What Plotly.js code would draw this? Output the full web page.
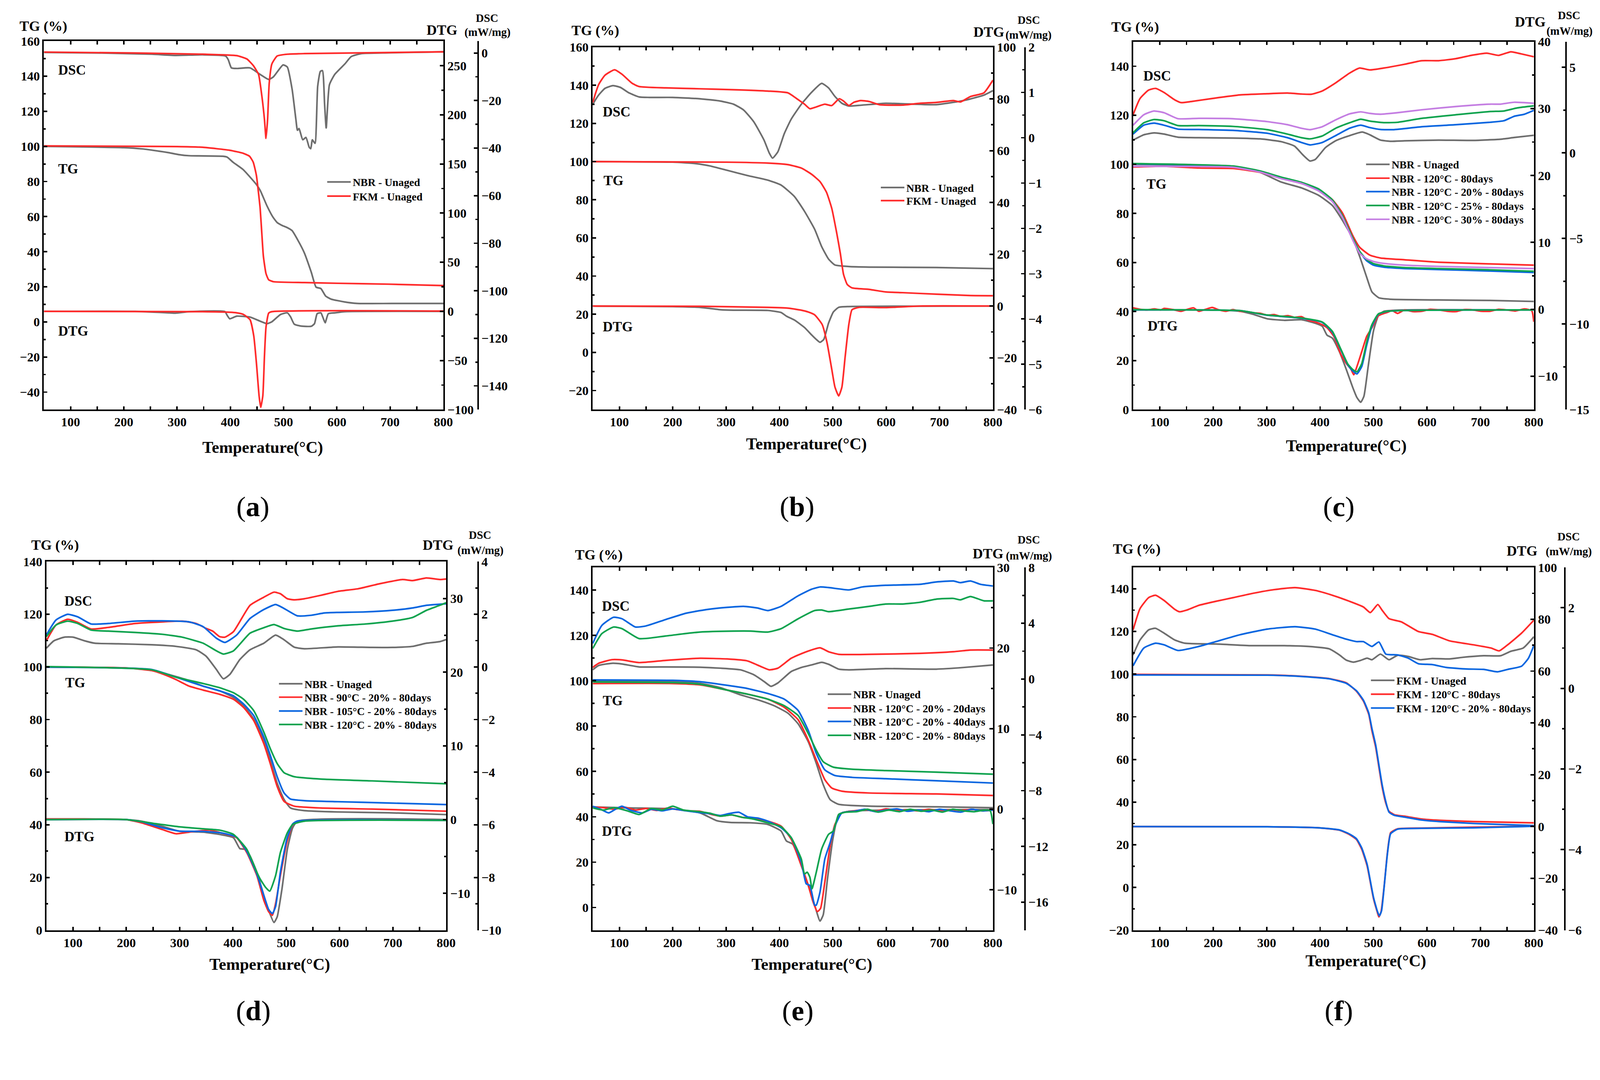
<!DOCTYPE html>
<html><head><meta charset="utf-8">
<script src="https://cdn.plot.ly/plotly-3.0.1.min.js"></script>
<style>html,body{margin:0;padding:0;background:#fff;overflow:hidden}#chart{display:block}</style>
</head><body><div id="chart"></div>
<script>
// ===================== DATA (temperature in °C, values in each curve's own axis units) =====================
// ---- Panel (a): NBR vs FKM unaged ----
const a_nbr_tg_T=[50,200,234,266,285,304,323,386,394,405,424,449,456,469,480,488,497,507,516,526,539,552,561,570,579,589,614,639,703,800];
const a_nbr_tg=[100,99.3,98.6,97.3,96.4,95.3,94.7,94.4,93.9,91,86.8,78.3,75,66,59.7,56.6,55,53.7,52,47,39.3,28.3,19.8,19,14.7,13,11.4,10.5,10.5,10.5];
const a_fkm_tg_T=[50,200,300,348,399,424,436,443,449,453,456,459,462,467,472,481,539,602,697,800];
const a_fkm_tg=[100.3,100.1,99.9,99.5,97.8,96.1,94.4,91,83.4,73.2,64.7,51,37.6,27.5,24,22.9,22.4,22,21.5,20.7];
const a_nbr_dsc_T=[50,158,253,297,348,391,396,402,412,437,456,472,481,499,507,516,523,526,529,536,542,548,551,554,559,564,569,573,577,580,586,596,615,627,646,697,800];
const a_nbr_dsc=[0.25,0,-0.5,-1,-0.75,-1.25,-2.75,-6.25,-6.5,-6.25,-9,-11.1,-10,-5,-5.9,-15.25,-27.75,-32.5,-31.75,-36.5,-35.5,-39.6,-40.25,-36.5,-38,-14,-7.75,-7.4,-21.5,-31.5,-13.4,-9,-4.6,-1.5,-0.25,0.1,0.5];
const a_fkm_dsc_T=[50,221,348,412,431,443,453,459,464,467,470,473,478,488,507,539,800];
const a_fkm_dsc=[0.4,0,-0.5,-1.1,-2.5,-5.25,-9,-17.75,-27.75,-35.9,-27.75,-12.75,-4.6,-1.25,-0.5,-0.25,0.5];
const a_nbr_dtg_T=[50,221,285,297,323,390,394,399,405,412,437,456,469,478,494,507,513,520,532,552,558,563,570,574,578,584,596,615,800];
const a_nbr_dtg=[0,0,-1.5,-1.8,-0.3,-0.3,-4,-7.6,-6.4,-4.9,-5.8,-10,-12.5,-10.6,-3.3,-1.5,-5.5,-13,-14.9,-15.2,-12.5,-2.4,-1.5,-6.4,-11.6,-2.4,-1.5,-0.3,0];
const a_fkm_dtg_T=[50,348,399,412,424,437,444,449,454,457,461,464,467,472,478,800];
const a_fkm_dtg=[0,-0.3,-0.9,-1.5,-3,-8.5,-25,-52.6,-86,-97.6,-86,-46.5,-16,-1.8,-0.3,0.3];

// ---- Panel (b): NBR vs FKM unaged ----
const b_nbr_dsc_T=[50,61,73,88,102,118,137,156,200,251,289,314,333,352,371,381,387,397,409,422,441,460,479,492,504,517,530,555,599,631,694,745,783,800];
const b_nbr_dsc=[0.74,0.94,1.09,1.15,1.11,0.99,0.9,0.89,0.89,0.86,0.81,0.74,0.61,0.35,-0.05,-0.34,-0.45,-0.31,0.09,0.41,0.74,1.0,1.2,1.1,0.91,0.76,0.70,0.72,0.76,0.75,0.73,0.82,0.94,1.04];
const b_fkm_dsc_T=[50,61,73,91,105,124,137,187,251,314,378,416,435,447,457,469,485,498,512,520,530,539,552,568,587,631,663,694,726,739,758,783,800];
const b_fkm_dsc=[0.78,1.17,1.38,1.5,1.4,1.2,1.13,1.1,1.08,1.06,1.03,0.99,0.84,0.74,0.64,0.68,0.74,0.71,0.86,0.81,0.71,0.78,0.82,0.8,0.73,0.72,0.76,0.78,0.82,0.79,0.91,0.99,1.27];
const b_nbr_tg_T=[50,200,244,270,301,340,378,403,428,447,466,479,492,504,530,568,694,800];
const b_nbr_tg=[100,99.7,98.9,97.7,95.5,92.7,90.3,87.7,81.7,73.9,64.5,55.5,48.9,45.8,45,44.7,44.5,43.9];
const b_fkm_tg_T=[50,300,378,416,441,460,476,488,498,507,514,520,527,536,568,599,631,694,758,800];
const b_fkm_tg=[100,99.7,99.2,98.4,96.6,93.4,89.5,84,75.5,63,52,41,35.6,33.8,33,31.7,31.3,30.5,29.8,29.7];
const b_nbr_dtg_T=[50,200,251,289,314,378,403,413,428,447,460,469,476,483,492,501,511,530,800];
const b_nbr_dtg=[0,-0.2,-0.5,-1.4,-1.6,-1.7,-2.5,-3.9,-5.4,-8.3,-11.1,-12.9,-14,-12.9,-6.6,-2.3,-0.5,-0.2,0];
const b_fkm_dtg_T=[50,251,378,416,441,454,466,480,489,498,504,511,517,523,530,536,549,599,663,800];
const b_fkm_dtg=[0,-0.1,-0.5,-0.8,-1.6,-2.3,-3.4,-7.1,-14,-24.4,-31.3,-34.7,-31.3,-19.8,-7.1,-1.4,-0.5,-0.6,0,0];

// ---- Panel (c): NBR, 120°C, different compression, 80 days ----
const c_nbr_dsc_T=[50,70,89,108,134,173,237,288,327,352,368,381,391,410,429,455,479,493,513,532,558,622,686,737,763,800];
const c_nbr_dsc=[0.75,1.06,1.17,1.1,0.92,0.89,0.87,0.82,0.66,0.4,-0.12,-0.47,-0.38,0.31,0.71,1.01,1.22,1.06,0.75,0.68,0.71,0.75,0.73,0.8,0.9,1.03];
const c_r80_dsc_T=[50,63,79,92,108,128,140,160,198,250,301,339,365,384,404,429,455,474,493,519,558,590,622,654,686,712,734,757,776,800];
const c_r80_dsc=[2.23,3.18,3.67,3.77,3.53,3.1,2.94,3.01,3.18,3.39,3.46,3.5,3.44,3.43,3.62,4.09,4.66,4.96,4.85,4.96,5.18,5.39,5.39,5.51,5.72,5.83,5.7,5.91,5.79,5.62];
const c_b20_dsc_T=[50,70,89,108,134,173,237,301,339,365,381,404,429,455,476,493,513,538,590,654,718,744,763,782,800];
const c_b20_dsc=[1.1,1.62,1.74,1.62,1.39,1.37,1.32,1.15,0.89,0.61,0.47,0.61,1.01,1.44,1.62,1.48,1.37,1.36,1.53,1.65,1.79,1.88,2.14,2.26,2.49];
const c_g25_dsc_T=[50,70,89,108,134,173,237,301,339,365,381,404,429,455,476,493,519,545,590,654,718,744,769,800];
const c_g25_dsc=[1.18,1.76,1.95,1.88,1.6,1.6,1.55,1.36,1.1,0.89,0.82,0.99,1.44,1.76,1.97,1.86,1.77,1.79,2.02,2.23,2.42,2.45,2.63,2.75];
const c_p30_dsc_T=[50,70,89,108,134,173,237,301,339,365,381,404,429,455,476,493,513,545,590,654,718,737,763,800];
const c_p30_dsc=[1.62,2.23,2.45,2.35,2.0,2.02,2.0,1.83,1.65,1.44,1.36,1.53,1.93,2.28,2.4,2.31,2.26,2.35,2.52,2.71,2.85,2.85,2.96,2.9];
const c_nbr_tg_T=[50,198,250,288,327,365,397,423,442,461,474,487,497,510,532,622,718,800];
const c_nbr_tg=[100,99.5,98.7,96.7,92.8,90.4,87.4,83.2,77.1,69.8,62.5,54.1,48,45.6,45,44.7,44.5,44.1];
const c_r80_tg_T=[50,108,173,237,288,327,365,397,423,442,461,474,493,513,558,622,718,800];
const c_r80_tg=[98.9,99.2,98.5,98.3,96.7,94.3,92.2,89.7,85.6,80.1,71,66.2,63,61.8,61.1,60.1,59.4,58.9];
const c_aged_tg_T=[50,237,288,327,365,397,423,442,461,474,487,500,519,558,622,718,800];
const c_b20_tg=[100.2,99.2,97.1,94.5,92.5,89.8,85.3,78.9,69.8,64.4,60.7,58.9,58.1,57.5,57.1,56.5,55.9];
const c_g25_tg=[100.3,99.3,97.3,94.8,92.7,90,85.5,79,70,64.6,61.2,59.5,58.6,57.9,57.5,57,56.4];
const c_p30_tg=[99.2,98.8,96.8,94.2,92.2,89.2,84.8,78.3,69.2,63.8,61.5,60.4,59.6,58.9,58.4,57.9,57.5];
const c_nbr_dtg_T=[50,198,250,275,301,333,365,391,404,413,423,436,449,461,469,476,482,490,500,509,519,558,800];
const c_nbr_dtg=[-0.1,-0.1,-0.3,-0.76,-1.42,-1.65,-1.56,-2.09,-2.54,-3.87,-4.32,-6.32,-8.99,-11.66,-13.2,-13.9,-13.0,-8.54,-3.2,-0.98,-0.31,-0.1,-0.1];
const c_r80_dtg_T=[50,63,76,90,102,108,125,140,152,163,173,186,198,211,224,237,250,262,275,288,301,314,327,340,352,365,378,391,404,413,426,439,449,458,463,469,478,487,497,509,526,535,545,558,574,590,606,622,638,654,670,686,702,718,734,750,766,782,796,800];
const c_r80_dtg=[0.22,0.0,-0.1,0.05,-0.1,0.13,-0.05,-0.3,0.0,0.22,-0.3,0.0,0.27,-0.1,-0.3,-0.05,-0.3,-0.35,-0.53,-0.6,-0.89,-0.8,-1.07,-0.95,-1.2,-1.1,-1.65,-1.9,-2.31,-2.76,-4.09,-6.76,-8.1,-8.99,-9.79,-8.54,-6.32,-4.09,-2.76,-0.98,-0.45,-0.2,-0.62,-0.1,-0.35,-0.3,0.0,-0.1,-0.3,-0.35,-0.05,-0.1,-0.3,-0.3,0.0,-0.1,-0.25,0.05,-0.2,-1.87];
const c_aged_dtg_T=[50,173,250,301,365,404,423,439,452,461,469,478,487,497,509,526,800];
const c_b20_dtg=[-0.1,-0.1,-0.2,-0.89,-1.34,-1.96,-3.43,-6.1,-8.32,-9.21,-9.66,-8.54,-5.43,-2.54,-0.76,-0.31,-0.1];
const c_g25_dtg=[-0.05,-0.1,-0.2,-0.85,-1.3,-1.9,-3.3,-6.0,-8.2,-9.0,-9.35,-8.1,-4.98,-2.3,-0.7,-0.3,-0.1];

// ---- Panel (d): NBR, 20 %, 80 days, different temperature ----
const d_nbr_dsc_T=[50,64,84,100,122,141,185,248,293,331,350,369,382,394,413,432,458,480,496,515,534,597,661,699,737,763,788,800];
const d_nbr_dsc=[0.71,0.99,1.13,1.13,0.99,0.9,0.88,0.84,0.78,0.65,0.4,-0.1,-0.45,-0.29,0.28,0.65,0.9,1.21,1.03,0.75,0.69,0.76,0.74,0.74,0.78,0.9,0.96,1.04];
const d_r90_dsc_T=[50,68,90,109,134,166,217,267,305,331,350,362,375,385,401,432,458,477,489,502,515,534,565,597,635,673,718,737,763,788,800];
const d_r90_dsc=[0.99,1.59,1.81,1.69,1.44,1.5,1.65,1.71,1.74,1.65,1.46,1.36,1.15,1.13,1.34,2.34,2.65,2.84,2.78,2.59,2.55,2.59,2.72,2.87,2.97,3.15,3.32,3.28,3.38,3.32,3.34];
const d_b105_dsc_T=[50,68,90,109,134,166,217,267,318,344,369,385,407,432,458,480,496,521,546,572,597,648,699,737,763,800];
const d_b105_dsc=[1.21,1.78,2.0,1.9,1.63,1.65,1.74,1.75,1.71,1.53,1.09,0.93,1.21,1.84,2.18,2.37,2.22,1.94,1.96,2.05,2.07,2.09,2.15,2.24,2.34,2.4];
const d_g120_dsc_T=[50,68,90,109,134,166,217,267,305,344,369,382,401,432,458,477,496,521,546,597,648,699,737,763,788,800];
const d_g120_dsc=[1.15,1.59,1.74,1.65,1.4,1.36,1.31,1.24,1.13,0.9,0.61,0.49,0.61,1.28,1.49,1.61,1.46,1.36,1.44,1.56,1.63,1.74,1.88,2.15,2.34,2.44];
const d_nbr_tg_T=[50,200,248,280,312,344,375,401,420,439,458,470,483,496,508,534,597,692,800];
const d_nbr_tg=[100,99.6,98.9,97.1,95.2,92.7,90.9,88.4,85.2,80.2,72.1,64.6,55.8,49.6,46.4,45.4,44.9,44.6,43.9];
const d_r90_tg_T=[50,200,248,267,293,318,344,375,401,420,439,458,470,483,496,515,565,661,800];
const d_r90_tg=[100,99.6,98.6,97.4,95.2,92.7,91.2,89.6,87.7,84.6,79.6,70.8,63.3,54.6,48.9,47.1,46.4,46,45.2];
const d_b105_tg_T=[50,248,293,344,375,401,420,439,458,470,483,496,508,534,597,692,800];
const d_b105_tg=[99.9,99,96.1,92.7,90.9,89,85.9,81.5,73.3,66.5,58.3,52.1,49.8,49.2,48.8,48.3,47.7];
const d_g120_tg_T=[50,248,293,344,375,401,420,439,458,470,483,496,515,565,661,800];
const d_g120_tg=[100.1,98.9,96.1,93.7,92.1,90.2,87.7,83.4,75.2,69,63.3,59.8,58.3,57.4,56.7,55.6];
const d_nbr_dtg_T=[50,200,229,267,299,344,375,401,413,423,432,445,458,467,477,483,492,502,512,521,800];
const d_nbr_dtg=[0,0,-0.22,-0.9,-1.57,-1.7,-2.01,-2.46,-3.94,-4.03,-4.92,-7.16,-10.3,-12.3,-13.96,-13.2,-9.4,-4.03,-1.12,-0.22,0];
const d_r90_dtg_T=[50,109,200,229,267,293,318,356,382,407,426,445,458,467,474,480,489,501,512,521,800];
const d_r90_dtg=[0.09,0.09,0,-0.45,-1.34,-1.92,-1.7,-1.43,-1.88,-2.46,-4.47,-7.61,-10.96,-12.5,-12.98,-11.4,-7.61,-3.13,-0.67,-0.22,-0.1];
const d_b105_dtg_T=[50,200,229,267,300,344,382,407,426,445,458,467,474,480,489,501,512,521,800];
const d_b105_dtg=[0,0,-0.3,-1.1,-1.57,-1.6,-1.85,-2.4,-4.3,-7.4,-10.3,-12.2,-12.75,-11.8,-7.16,-2.68,-0.6,-0.2,-0.1];
const d_g120_dtg_T=[50,200,250,300,344,375,401,426,445,451,461,469,480,489,502,512,534,800];
const d_g120_dtg=[0,0,-0.5,-0.98,-1.25,-1.43,-2.01,-4.03,-7.16,-8.05,-9.17,-9.71,-7.61,-4.47,-1.79,-0.67,-0.22,-0.1];

// ---- Panel (e): NBR, 120°C, 20 %, different ageing time ----
const e_nbr_dsc_T=[50,61,86,105,137,187,251,289,327,352,371,384,397,422,441,460,479,492,511,530,599,694,745,800];
const e_nbr_dsc=[0.66,0.97,1.13,1.08,0.87,0.87,0.85,0.78,0.66,0.31,-0.17,-0.52,-0.28,0.54,0.83,1.01,1.2,1.06,0.71,0.66,0.75,0.71,0.83,1.01];
const e_r20_dsc_T=[50,61,86,105,137,187,251,302,340,365,381,397,422,447,476,492,511,568,663,726,758,800];
const e_r20_dsc=[0.83,1.13,1.39,1.37,1.18,1.34,1.49,1.44,1.3,0.9,0.66,0.78,1.49,1.91,2.24,1.96,1.77,1.77,1.84,1.96,2.08,2.08];
const e_b40_dsc_T=[50,67,89,105,130,149,187,225,263,302,333,359,378,403,435,460,476,492,530,555,599,663,694,726,739,758,777,800];
const e_b40_dsc=[2.55,3.84,4.43,4.32,3.73,3.8,4.27,4.72,4.98,5.14,5.21,5.09,4.91,5.21,5.97,6.44,6.6,6.56,6.39,6.6,6.72,6.79,6.96,7.03,6.91,7.03,6.79,6.67];
const e_g80_dsc_T=[50,67,89,105,137,187,251,314,346,378,403,435,466,479,492,530,568,599,631,663,694,726,739,758,783,800];
const e_g80_dsc=[2.19,3.25,3.73,3.61,2.9,3.09,3.37,3.44,3.44,3.37,3.61,4.32,4.91,4.95,4.83,5.02,5.21,5.38,5.38,5.5,5.73,5.78,5.68,5.92,5.61,5.61];
const e_nbr_tg_T=[50,200,251,289,327,365,390,416,435,454,469,482,495,511,568,694,800];
const e_nbr_tg=[100,99.6,98.9,97,93.8,91.2,89,85.7,81,73.1,63.6,54.2,47.6,45.5,44.7,44.4,44];
const e_r20_tg_T=[50,200,251,302,340,378,409,435,454,469,485,498,517,568,694,800];
const e_r20_tg=[98.8,98.8,98.2,95.9,94.1,91.9,88.3,82.8,73.8,65.1,56.4,52.7,51.3,50.5,50.1,49.4];
const e_b40_tg_T=[50,200,251,302,340,378,409,435,454,469,485,504,536,599,694,800];
const e_b40_tg=[100.4,100.2,99.6,98,96.6,94.4,91.9,86.9,78.1,68,60.7,58.2,57.4,56.8,55.9,54.9];
const e_g80_tg_T=[50,200,251,302,340,378,409,435,454,469,482,501,536,599,694,800];
const e_g80_tg=[99.5,99.2,98.5,95.9,94.1,91.9,89,84.7,76.7,69.4,64.3,61.9,61,60.4,59.7,58.8];
const e_nbr_dtg_T=[50,124,200,251,283,308,346,378,403,413,425,441,454,466,476,482,490,500,511,530,800];
const e_nbr_dtg=[0.29,0.16,0.04,-0.45,-1.43,-1.64,-1.68,-1.88,-2.7,-3.93,-4.34,-7.0,-9.45,-11.9,-13.87,-13.1,-8.63,-3.72,-0.65,-0.25,-0.04];
const e_r20_dtg_T=[50,70,90,110,130,150,170,190,210,230,251,270,289,310,330,340,360,378,403,422,441,454,463,471,477,485,495,504,517,540,560,580,600,620,640,660,680,700,720,740,760,780,800];
const e_r20_dtg=[0.29,0.2,0.0,0.25,-0.1,0.1,-0.15,0.15,-0.05,-0.2,-0.25,-0.6,-0.85,-0.7,-1.0,-1.06,-1.2,-1.47,-2.09,-3.72,-7.0,-9.45,-11.5,-12.7,-12.3,-9.04,-4.54,-1.88,-0.45,-0.2,-0.05,-0.25,0.05,-0.15,-0.05,-0.2,0.0,-0.2,-0.05,-0.15,0.0,-0.2,-0.1];
const e_b40_dtg_T=[50,65,80,95,105,120,143,160,180,200,220,250,270,289,305,324,340,360,378,403,422,441,450,457,466,469,476,485,495,504,517,540,560,580,600,620,640,660,680,700,720,740,760,780,800];
const e_b40_dtg=[0.37,0.0,-0.45,0.1,0.37,-0.1,-0.45,0.0,-0.2,0.04,-0.15,-0.4,-0.55,-0.78,-0.55,-0.37,-0.94,-1.1,-1.47,-2.29,-3.52,-6.58,-9.24,-9.45,-11.9,-11.9,-10.27,-6.18,-4.13,-2.09,-0.45,-0.25,0.0,-0.3,-0.1,0.05,-0.25,-0.1,-0.3,0.0,-0.2,-0.35,0.0,-0.2,-0.1];
const e_g80_dtg_T=[50,70,90,115,137,160,180,200,220,250,270,289,310,330,350,378,403,422,441,447,452,457,461,469,479,492,501,511,523,545,565,585,605,625,645,665,685,705,725,745,765,785,795,800];
const e_g80_dtg=[0.16,-0.1,0.2,-0.2,-0.65,0.1,-0.1,0.37,-0.1,-0.3,-0.5,-0.86,-0.7,-1.0,-1.2,-1.68,-2.17,-3.52,-6.18,-8.02,-7.81,-8.43,-9.86,-7.81,-4.95,-3.11,-2.7,-0.65,-0.37,-0.3,0.0,-0.35,-0.1,-0.3,0.0,-0.25,-0.1,-0.35,0.0,-0.2,-0.3,-0.1,-0.2,-1.84];

// ---- Panel (f): FKM ----
const f_fkm_dsc_T=[50,63,79,92,108,128,147,205,269,333,378,417,436,449,462,475,488,497,513,529,545,565,587,610,642,667,706,738,757,780,800];
const f_fkm_dsc=[0.83,1.2,1.45,1.49,1.37,1.2,1.12,1.1,1.06,1.06,1.04,0.98,0.83,0.7,0.65,0.69,0.75,0.71,0.85,0.71,0.82,0.79,0.71,0.74,0.73,0.77,0.81,0.81,0.92,1.0,1.28];
const f_r80_dsc_T=[50,63,79,92,108,128,137,150,173,205,237,275,314,353,391,423,455,481,494,508,516,529,552,584,610,642,687,720,735,751,777,800];
const f_r80_dsc=[1.45,1.98,2.25,2.31,2.18,1.96,1.9,1.94,2.06,2.16,2.25,2.36,2.45,2.5,2.43,2.31,2.16,2.02,1.88,2.08,1.94,1.73,1.65,1.41,1.34,1.18,1.08,1.0,0.93,1.08,1.37,1.69];
const f_b20_dsc_T=[50,70,92,108,134,173,205,250,301,353,391,423,449,468,481,497,510,523,545,565,584,610,636,674,706,732,751,777,790,800];
const f_b20_dsc=[0.56,1.0,1.12,1.08,0.94,1.04,1.16,1.33,1.47,1.53,1.47,1.33,1.22,1.16,1.16,1.04,1.15,0.85,0.83,0.75,0.61,0.59,0.52,0.48,0.47,0.41,0.47,0.55,0.75,1.06];
const f_aged_tg_T=[50,301,366,417,449,468,481,491,497,504,510,516,523,529,539,558,590,623,687,800];
const f_r80_tg=[99.9,99.6,99,97.9,95.9,92,87.4,81.2,73.5,65.8,56.5,47.3,39.5,35.7,34.1,33.4,32.1,31.5,30.9,30.3];
const f_b20_tg=[99.6,99.5,98.9,97.8,95.7,92.2,87.8,81.8,74.5,66.8,57.5,48.3,40.2,35.3,33.8,33.0,31.6,30.9,30.0,29.0];
const f_r80_dtg_T=[50,301,398,436,455,468,478,488,494,500,507,510,514,520,526,532,545,590,687,800];
const f_r80_dtg=[0,-0.1,-0.5,-1.4,-3.1,-5,-8.8,-15.2,-21.5,-27.9,-33,-34.9,-33,-22.8,-10.1,-2.4,-0.9,-0.6,-0.25,0.1];
const f_b20_dtg_T=[50,301,398,436,455,468,478,488,494,500,507,511,515,520,526,532,545,590,687,800];
const f_b20_dtg=[0,-0.1,-0.5,-1.3,-2.9,-4.7,-8.3,-14.6,-21,-27.4,-32.6,-34.5,-32.5,-23,-10.5,-2.8,-1.0,-0.7,-0.5,0.1];

const N_UNAGED='NBR - Unaged', F_UNAGED='FKM - Unaged';
const panelLetters=['a','b','c','d','e','f'];
const X_TITLE='Temperature(°C)';

// ===================== LAYOUT / STYLE =====================
const W=4280,H=2764;
const VW=window.innerWidth||W, VH=window.innerHeight||H;
const k=Math.min(VW/W,VH/H);
const S=v=>v*k;
const FONT='"Liberation Serif","Times New Roman",serif';
const COL={gray:'#6e6e6e',red:'#ff2b2b',blue:'#0a66e0',green:'#10a34f',purple:'#c47ee2'};
const px=x=>x/W, py=y=>1-y/H;

const panels=[
 {x0:117.5,x1:1186,y0:110,y1:1095.5,dscPos:1279,
  tg:[-50,160,20],dtg:[-100,275,50],dsc:[-150,5,20],
  series:[
   {name:N_UNAGED,c:'gray',dsc:[a_nbr_dsc_T,a_nbr_dsc],tg:[a_nbr_tg_T,a_nbr_tg],dtg:[a_nbr_dtg_T,a_nbr_dtg]},
   {name:F_UNAGED,c:'red',dsc:[a_fkm_dsc_T,a_fkm_dsc],tg:[a_fkm_tg_T,a_fkm_tg],dtg:[a_fkm_dtg_T,a_fkm_dtg]}],
  legX:872,legY:[487,525],
  lab:{tg:[50,70],dtgL:[1139,80],dscL:[1303,48],mw:[1304,86],inner:[[154,187],[154,451],[154,885]],letter:[677,1355],xt:[703,1197]}},
 {x0:1585.5,x1:2656,y0:126,y1:1095.5,dscPos:2742,
  tg:[-30,160,20],dtg:[-40,100,20],dsc:[-6,2,1],
  series:[
   {name:N_UNAGED,c:'gray',dsc:[b_nbr_dsc_T,b_nbr_dsc],tg:[b_nbr_tg_T,b_nbr_tg],dtg:[b_nbr_dtg_T,b_nbr_dtg]},
   {name:F_UNAGED,c:'red',dsc:[b_fkm_dsc_T,b_fkm_dsc],tg:[b_fkm_tg_T,b_fkm_tg],dtg:[b_fkm_dtg_T,b_fkm_dtg]}],
  legX:2353,legY:[502,537],
  lab:{tg:[1527,81],dtgL:[2602,86],dscL:[2752,53],mw:[2751,94],inner:[[1610,299],[1612,483],[1610,874]],letter:[2132,1355],xt:[2157,1187]}},
 {x0:3031,x1:4103,y0:111.5,y1:1095.5,dscPos:4189,
  tg:[0,150,20],dtg:[-15,40,10],dsc:[-15,6.5,5],
  series:[
   {name:N_UNAGED,c:'gray',dsc:[c_nbr_dsc_T,c_nbr_dsc],tg:[c_nbr_tg_T,c_nbr_tg],dtg:[c_nbr_dtg_T,c_nbr_dtg]},
   {name:'NBR - 120°C - 80days',c:'red',dsc:[c_r80_dsc_T,c_r80_dsc],tg:[c_r80_tg_T,c_r80_tg],dtg:[c_r80_dtg_T,c_r80_dtg]},
   {name:'NBR - 120°C - 20% - 80days',c:'blue',dsc:[c_b20_dsc_T,c_b20_dsc],tg:[c_aged_tg_T,c_b20_tg],dtg:[c_aged_dtg_T,c_b20_dtg]},
   {name:'NBR - 120°C - 25% - 80days',c:'green',dsc:[c_g25_dsc_T,c_g25_dsc],tg:[c_aged_tg_T,c_g25_tg],dtg:[c_aged_dtg_T,c_g25_dtg]},
   {name:'NBR - 120°C - 30% - 80days',c:'purple',dsc:[c_p30_dsc_T,c_p30_dsc],tg:[c_aged_tg_T,c_p30_tg]}],
  legX:3651,legY:[440,477,513,550,587],
  lab:{tg:[2971,72],dtgL:[4050,59],dscL:[4197,41],mw:[4198,83],inner:[[3056,203],[3065,492],[3068,872]],letter:[3581,1355],xt:[3601,1192]}},
 {x0:124,x1:1193.5,y0:1502,y1:2487.6,dscPos:1279,
  tg:[0,140,20],dtg:[-15,35,10],dsc:[-10,4,2],
  series:[
   {name:N_UNAGED,c:'gray',dsc:[d_nbr_dsc_T,d_nbr_dsc],tg:[d_nbr_tg_T,d_nbr_tg],dtg:[d_nbr_dtg_T,d_nbr_dtg]},
   {name:'NBR - 90°C - 20% - 80days',c:'red',dsc:[d_r90_dsc_T,d_r90_dsc],tg:[d_r90_tg_T,d_r90_tg],dtg:[d_r90_dtg_T,d_r90_dtg]},
   {name:'NBR - 105°C - 20% - 80days',c:'blue',dsc:[d_b105_dsc_T,d_b105_dsc],tg:[d_b105_tg_T,d_b105_tg],dtg:[d_b105_dtg_T,d_b105_dtg]},
   {name:'NBR - 120°C - 20% - 80days',c:'green',dsc:[d_g120_dsc_T,d_g120_dsc],tg:[d_g120_tg_T,d_g120_tg],dtg:[d_g120_dtg_T,d_g120_dtg]}],
  legX:743,legY:[1829,1865,1902,1938],
  lab:{tg:[81,1458],dtgL:[1128,1458],dscL:[1284,1431],mw:[1285,1472],inner:[[170,1607],[172,1826],[170,2237]],letter:[678,2703],xt:[721,2579]}},
 {x0:1585.5,x1:2656,y0:1517.6,y1:2487.6,dscPos:2742,
  tg:[-10,150,20],dtg:[-15,30,10],dsc:[-18,8,4],
  series:[
   {name:N_UNAGED,c:'gray',dsc:[e_nbr_dsc_T,e_nbr_dsc],tg:[e_nbr_tg_T,e_nbr_tg],dtg:[e_nbr_dtg_T,e_nbr_dtg]},
   {name:'NBR - 120°C - 20% - 20days',c:'red',dsc:[e_r20_dsc_T,e_r20_dsc],tg:[e_r20_tg_T,e_r20_tg],dtg:[e_r20_dtg_T,e_r20_dtg]},
   {name:'NBR - 120°C - 20% - 40days',c:'blue',dsc:[e_b40_dsc_T,e_b40_dsc],tg:[e_b40_tg_T,e_b40_tg],dtg:[e_b40_dtg_T,e_b40_dtg]},
   {name:'NBR - 120°C - 20% - 80days',c:'green',dsc:[e_g80_dsc_T,e_g80_dsc],tg:[e_g80_tg_T,e_g80_tg],dtg:[e_g80_dtg_T,e_g80_dtg]}],
  legX:2211,legY:[1857,1894,1930,1967],
  lab:{tg:[1536,1484],dtgL:[2600,1481],dscL:[2752,1443],mw:[2752,1486],inner:[[1608,1621],[1610,1874],[1608,2223]],letter:[2134,2703],xt:[2172,2579]}},
 {x0:3031,x1:4103,y0:1517.6,y1:2487.6,dscPos:4186,
  tg:[-20,150,20],dtg:[-40,100,20],dsc:[-6,3,2],
  series:[
   {name:F_UNAGED,c:'gray',dsc:[f_fkm_dsc_T,f_fkm_dsc]},
   {name:'FKM - 120°C - 80days',c:'red',dsc:[f_r80_dsc_T,f_r80_dsc],tg:[f_aged_tg_T,f_r80_tg],dtg:[f_r80_dtg_T,f_r80_dtg]},
   {name:'FKM - 120°C - 20% - 80days',c:'blue',dsc:[f_b20_dsc_T,f_b20_dsc],tg:[f_aged_tg_T,f_b20_tg],dtg:[f_b20_dtg_T,f_b20_dtg]}],
  legX:3664,legY:[1820,1857,1894],
  lab:{tg:[2975,1468],dtgL:[4028,1473],dscL:[4196,1435],mw:[4196,1475],inner:null,letter:[3581,2703],xt:[3654,2570]}}
];

const tickFont={family:FONT,size:S(34),color:'#000',weight:'bold'};
function axBase(dt){
  return {ticks:'inside',ticklen:S(9),tickwidth:S(4),tickcolor:'#000',showline:true,linewidth:S(4.2),linecolor:'#000',
    showgrid:false,zeroline:false,tickfont:tickFont,tick0:0,dtick:dt,
    minor:{dtick:dt/2,ticks:'inside',ticklen:S(5),tickwidth:S(4),tickcolor:'#000',showgrid:false}};
}
const traces=[];
const layout={width:Math.floor(W*k),height:Math.floor(H*k),margin:{l:0,r:0,t:0,b:0,pad:0},paper_bgcolor:'#fff',plot_bgcolor:'rgba(0,0,0,0)',
  font:{family:FONT,color:'#000',weight:'bold'},showlegend:true,annotations:[]};
const yid=n=>n===1?'y':'y'+n, yname=n=>n===1?'yaxis':'yaxis'+n;
let legCount=0;

panels.forEach((p,i)=>{
  const n=i+1, xid=n===1?'x':'x'+n, xname=n===1?'xaxis':'xaxis'+n;
  const t=3*i+1,d=3*i+2,s=3*i+3;
  layout[xname]=Object.assign(axBase(100),{domain:[px(p.x0),px(p.x1)],range:[50,800],anchor:yid(t),mirror:'allticks'});
  layout[yname(t)]=Object.assign(axBase(p.tg[2]),{domain:[py(p.y1),py(p.y0)],range:[p.tg[0],p.tg[1]],anchor:xid,side:'left'});
  layout[yname(d)]=Object.assign(axBase(p.dtg[2]),{overlaying:yid(t),range:[p.dtg[0],p.dtg[1]],anchor:xid,side:'right'});
  layout[yname(s)]=Object.assign(axBase(p.dsc[2]),{overlaying:yid(t),range:[p.dsc[0],p.dsc[1]],anchor:'free',position:px(p.dscPos),side:'right'});
  const mk=(arr,ax,ser,lg)=>({type:'scatter',mode:'lines',x:arr[0],y:arr[1],xaxis:xid,yaxis:yid(ax),name:ser.name,
    showlegend:!!lg,legend:lg||'legend',hoverinfo:'skip',line:{color:COL[ser.c],width:S(4.4),shape:'spline',smoothing:0.5}});
  // one legend box per entry so each row sits where the reference puts it
  p.series.forEach((ser,j)=>{
    legCount++;
    const lg=legCount===1?'legend':'legend'+legCount;
    layout[lg]={x:px(p.legX-2),y:py(p.legY[j]),xanchor:'left',yanchor:'middle',bgcolor:'rgba(0,0,0,0)',borderwidth:0,
      font:{family:FONT,size:S(29),color:'#000',weight:'bold'},itemwidth:Math.max(30,S(63))};
    traces.push(mk(ser.dsc,s,ser,lg));
  });
  p.series.forEach(ser=>{ if(ser.tg) traces.push(mk(ser.tg,t,ser,null)); });
  p.series.forEach(ser=>{ if(ser.dtg) traces.push(mk(ser.dtg,d,ser,null)); });
  const ann=(text,xy,size,xa)=>layout.annotations.push({text,x:px(xy[0]),y:py(xy[1]),xref:'paper',yref:'paper',
    xanchor:xa,yanchor:'middle',showarrow:false,font:{family:FONT,size:S(size),color:'#000',weight:'bold'}});
  ann('TG (%)',p.lab.tg,38,'left');
  ann('DTG',p.lab.dtgL,38,'left');
  ann('DSC',p.lab.dscL,30,'center');
  ann('(mW/mg)',p.lab.mw,30,'center');
  ann(X_TITLE,p.lab.xt,44,'center');
  if(p.lab.inner){ ann('DSC',p.lab.inner[0],37,'left'); ann('TG',p.lab.inner[1],37,'left'); ann('DTG',p.lab.inner[2],37,'left'); }
  layout.annotations.push({text:'(<b>'+panelLetters[i]+'</b>)',x:px(p.lab.letter[0]),y:py(p.lab.letter[1]),xref:'paper',yref:'paper',
    xanchor:'center',yanchor:'middle',showarrow:false,font:{family:FONT,size:S(76),color:'#000',weight:'normal'}});
});

Plotly.newPlot('chart',traces,layout,{staticPlot:true,displayModeBar:false});
</script></body></html>
